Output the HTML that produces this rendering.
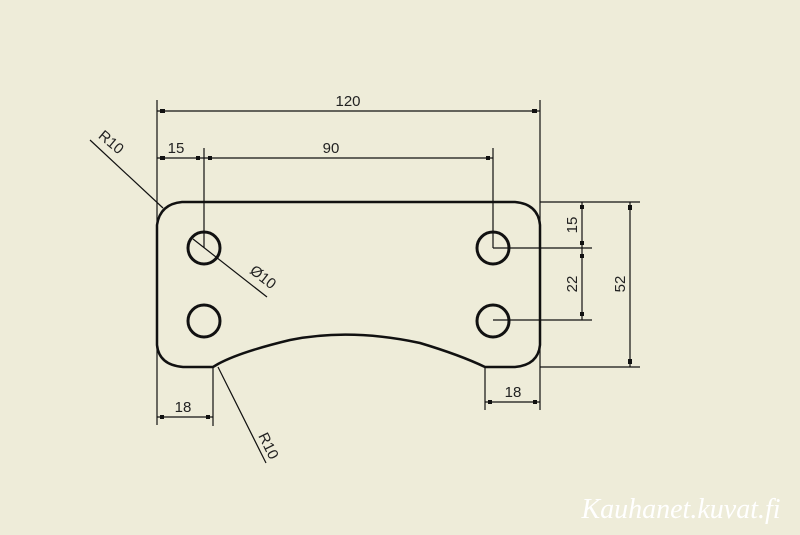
<!DOCTYPE html>
<html><head><style>html,body{margin:0;padding:0;background:#eeecd9}svg{display:block}</style></head><body>
<svg width="800" height="535" viewBox="0 0 800 535" xmlns="http://www.w3.org/2000/svg" font-family="Liberation Sans, sans-serif" font-size="15" fill="#222">
<rect width="800" height="535" fill="#eeecd9"/>
<path d="M157,225 Q160,204 182,202 L515,202 Q538,204 540,225 L540,345 Q538,365 515,367 L485,367 Q460,355 420,343 Q350,328 290,340 Q240,352 218,364 L213,367 L183,367 Q159,365 157,345 Z" fill="none" stroke="#111" stroke-width="2.5"/>
<g fill="none" stroke="#111" stroke-width="3">
<circle cx="204" cy="248" r="16"/><circle cx="493" cy="248" r="16"/>
<circle cx="204" cy="321" r="16"/><circle cx="493" cy="321" r="16"/>
</g>
<g stroke="#111" stroke-width="1.2" fill="none">
<line x1="157" y1="100" x2="157" y2="425"/>
<line x1="540" y1="100" x2="540" y2="410"/>
<line x1="157" y1="111" x2="540" y2="111"/>
<line x1="157" y1="158" x2="493" y2="158"/>
<line x1="204" y1="148" x2="204" y2="248"/>
<line x1="493" y1="148" x2="493" y2="248"/>
<line x1="540" y1="202" x2="640" y2="202"/>
<line x1="493" y1="248" x2="592" y2="248"/>
<line x1="493" y1="320" x2="592" y2="320"/>
<line x1="540" y1="367" x2="640" y2="367"/>
<line x1="582" y1="202" x2="582" y2="320"/>
<line x1="630" y1="202" x2="630" y2="367"/>
<line x1="213" y1="367" x2="213" y2="426"/>
<line x1="157" y1="417" x2="213" y2="417"/>
<line x1="485" y1="367" x2="485" y2="410"/>
<line x1="485" y1="402" x2="540" y2="402"/>
<line x1="90" y1="140" x2="163" y2="208"/>
<line x1="193" y1="239" x2="267" y2="297"/>
<line x1="218" y1="367" x2="266" y2="463"/>
</g>
<g fill="#111">
<rect x="160" y="109" width="5" height="4"/><rect x="532" y="109" width="5" height="4"/>
<rect x="160" y="156" width="5" height="4"/><rect x="196" y="156" width="4" height="4"/><rect x="208" y="156" width="4" height="4"/><rect x="486" y="156" width="4" height="4"/>
<rect x="580" y="205" width="4" height="4"/><rect x="580" y="241" width="4" height="4"/><rect x="580" y="254" width="4" height="4"/><rect x="580" y="312" width="4" height="4"/>
<rect x="628" y="205" width="4" height="5"/><rect x="628" y="359" width="4" height="5"/>
<rect x="160" y="415" width="4" height="4"/><rect x="206" y="415" width="4" height="4"/>
<rect x="488" y="400" width="4" height="4"/><rect x="533" y="400" width="4" height="4"/>
</g>
<text x="348" y="106" text-anchor="middle">120</text>
<text x="176" y="153" text-anchor="middle">15</text>
<text x="331" y="153" text-anchor="middle">90</text>
<text x="183" y="412" text-anchor="middle">18</text>
<text x="513" y="397" text-anchor="middle">18</text>
<text transform="translate(577,225) rotate(-90)" text-anchor="middle">15</text>
<text transform="translate(577,284) rotate(-90)" text-anchor="middle">22</text>
<text transform="translate(625,284) rotate(-90)" text-anchor="middle">52</text>
<text transform="translate(108,146) rotate(40)" text-anchor="middle">R10</text>
<text transform="translate(260,281) rotate(38)" text-anchor="middle">Ø10</text>
<text transform="translate(264,448) rotate(64)" text-anchor="middle">R10</text>
<text x="681" y="518" text-anchor="middle" font-family="Liberation Serif, serif" font-style="italic" font-size="28" fill="#ffffff">Kauhanet.kuvat.fi</text>
</svg>
</body></html>
